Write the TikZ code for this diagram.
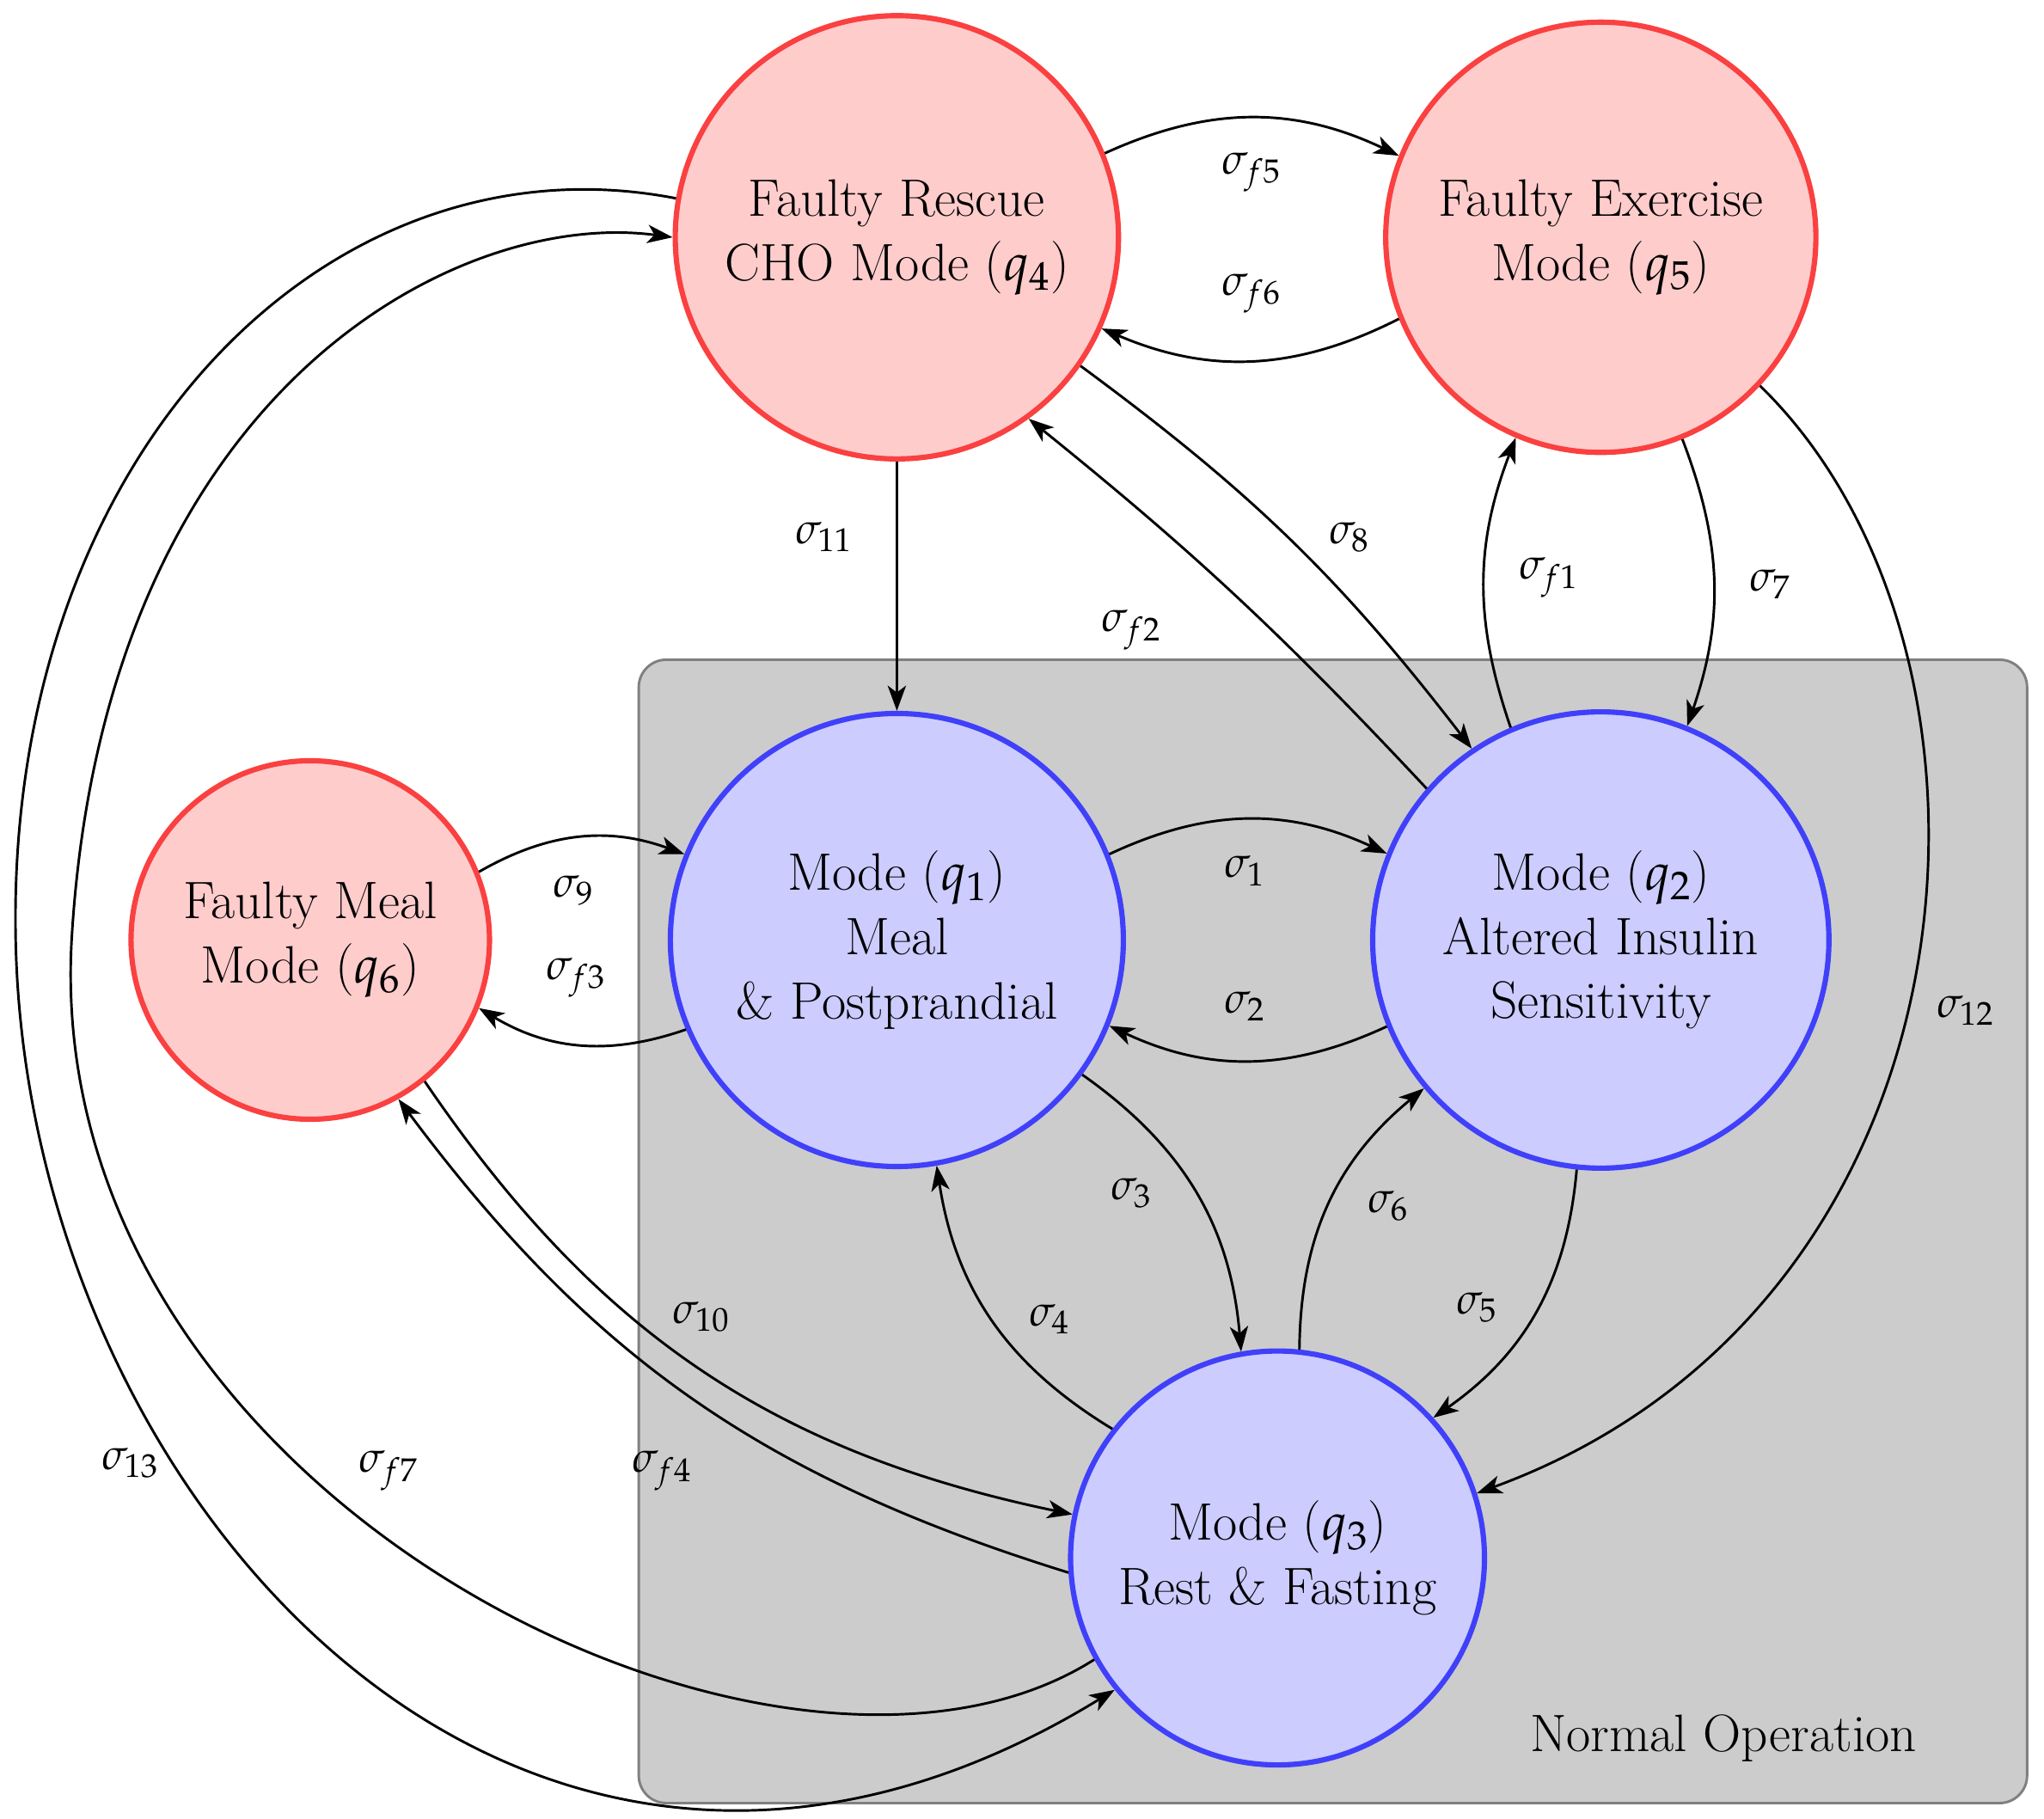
\documentclass[tikz,border=0pt]{standalone}
\usepackage{mathpazo}
\usetikzlibrary{arrows.meta}
\definecolor{fr}{RGB}{255,204,204}\definecolor{dr}{RGB}{250,64,64}
\definecolor{fb}{RGB}{204,204,255}\definecolor{db}{RGB}{64,64,250}
\begin{document}
\begin{tikzpicture}[
 st/.style={circle,inner sep=0,line width=2.3pt,align=center,font=\fontsize{23}{28}\selectfont},
 red/.style={st,fill=fr,draw=dr},
 blue/.style={st,fill=fb,draw=db},
 ed/.style={line width=1.1pt,-{Stealth[length=11pt,width=8pt,inset=3pt]}},
 lb/.style={font=\fontsize{19}{21}\selectfont}]
\useasboundingbox (0,0) rectangle (31.36,-27.9);
\draw[fill=black!20,draw=black!50,line width=1.1pt,rounded corners=12pt] (9.8,-10.12) rectangle (31.1,-27.66);
\node[font=\fontsize{23}{27}\selectfont] (no) at (26.44,-26.66) {Normal Operation};
\node[red,minimum size=6.8cm] (q4) at (13.76,-3.64) {Faulty Rescue\\CHO Mode ($q_4$)};
\node[red,minimum size=6.6cm] (q5) at (24.56,-3.64) {Faulty Exercise\\Mode ($q_5$)};
\node[red,minimum size=5.5cm] (q6) at (4.76,-14.42) {Faulty Meal\\Mode ($q_6$)};
\node[blue,minimum size=6.95cm] (q1) at (13.76,-14.42) {Mode ($q_1$)\\Meal\\\& Postprandial};
\node[blue,minimum size=7cm] (q2) at (24.56,-14.42) {Mode ($q_2$)\\Altered Insulin\\Sensitivity};
\node[blue,minimum size=6.35cm] (q3) at (19.6,-23.9) {Mode ($q_3$)\\Rest \& Fasting};
\draw[ed] (q4.22) to[bend left=25] (q5.158);
\draw[ed] (q5.202) to[bend left=25] (q4.-24);
\draw[ed] (q1.22) to[bend left=25] (q2.158);
\draw[ed] (q2.202) to[bend left=25] (q1.-22);
\draw[ed] (q1.203) to[bend left=25] (q6.-22);
\draw[ed] (q6.22) to[bend left=25] (q1.158);
\draw[ed] (q4.south) -- (q1.north);
\draw[ed] (q4.-35) to[bend left=8] (q2.124);
\draw[ed] (q2.139) to[bend right=4] (q4.-54);
\draw[ed] (q2.113) to[bend left=20] (q5.247);
\draw[ed] (q5.-68) to[bend left=20] (q2.68);
\draw[ed] (q5.-43) .. controls (31.2,-10) and (30.6,-20) .. (q3.18);
\draw[ed] (q1.-36) to[bend left=25] (q3.100);
\draw[ed] (q3.142) to[bend left=25] (q1.-80);
\draw[ed] (q3.84) to[bend left=25] (q2.220);
\draw[ed] (q2.264) to[bend left=25] (q3.42);
\draw[ed] (q6.-51) to[bend right=22] (q3.168);
\draw[ed] (q3.184) to[bend left=18] (q6.-61);
\draw[ed] (q3.209) .. controls (12,-28.5) and (0.6,-23) .. (1.1,-14.4) .. controls (1.6,-6) and (7,-3.2) .. (q4.180);
\draw[ed] (q4.170) .. controls (5,-2) and (0.1,-7) .. (0.24,-14.4) .. controls (0.4,-23) and (8,-31.5) .. (q3.219);
\node[lb] (s5) at (19.2,-2.64) {$\sigma_{f5}$};
\node[lb] (s6) at (19.2,-4.5) {$\sigma_{f6}$};
\node[lb] (l1) at (19.1,-13.36) {$\sigma_1$};
\node[lb] (l2) at (19.1,-15.44) {$\sigma_2$};
\node[lb] (l9) at (8.8,-13.66) {$\sigma_9$};
\node[lb] (f3) at (8.84,-15) {$\sigma_{f3}$};
\node[lb] (l11) at (12.64,-8.24) {$\sigma_{11}$};
\node[lb] (l8) at (20.7,-8.24) {$\sigma_8$};
\node[lb] (f2) at (17.36,-9.66) {$\sigma_{f2}$};
\node[lb] (f1) at (23.76,-8.86) {$\sigma_{f1}$};
\node[lb] (l7) at (27.16,-8.96) {$\sigma_7$};
\node[lb] (l12) at (30.16,-15.5) {$\sigma_{12}$};
\node[lb] (l3) at (17.36,-18.3) {$\sigma_3$};
\node[lb] (l4) at (16.1,-20.24) {$\sigma_4$};
\node[lb] (l6) at (21.3,-18.5) {$\sigma_6$};
\node[lb] (l5) at (22.66,-20.06) {$\sigma_5$};
\node[lb] (l10) at (10.76,-20.2) {$\sigma_{10}$};
\node[lb] (f4) at (10.16,-22.56) {$\sigma_{f4}$};
\node[lb] (f7) at (5.96,-22.56) {$\sigma_{f7}$};
\node[lb] (l13) at (2,-22.44) {$\sigma_{13}$};
\end{tikzpicture}
\end{document}
